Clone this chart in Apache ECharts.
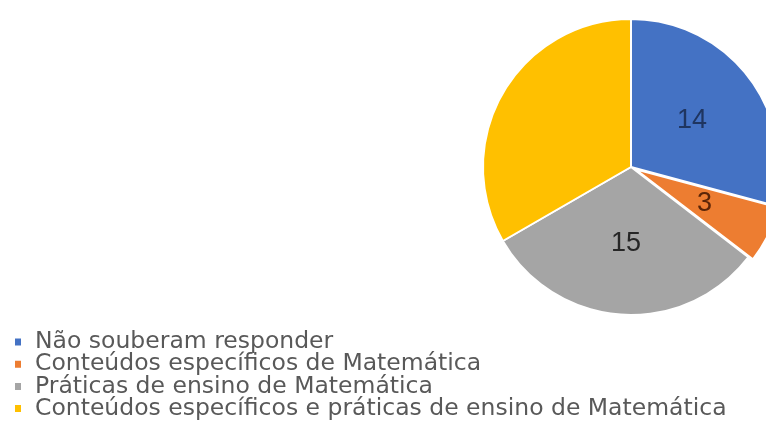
<!DOCTYPE html>
<html>
<head>
<meta charset="utf-8">
<script src="https://cdn.jsdelivr.net/npm/echarts@6/dist/echarts.min.js"></script>
<style>
  html, body { margin: 0; padding: 0; background: #fff; }
  #chart { width: 766px; height: 438px; }
</style>
</head>
<body>
<div id="chart"></div>
<script>
// Categories and counts of answers
const categories = [
  'Não souberam responder',
  'Conteúdos específicos de Matemática',
  'Práticas de ensino de Matemática',
  'Conteúdos específicos e práticas de ensino de Matemática'
];
const counts = [14, 3, 15, 16];
const sliceColors = ['#4472c4', '#ed7d31', '#a5a5a5', '#ffc000'];
const labelColors = ['#1f3560', '#5a2508', '#262626', '#000000'];
const showLabel = [true, true, true, false];
const pulledOut = [false, true, false, false];

const chart = echarts.init(document.getElementById('chart'), null, { renderer: 'canvas' });

const data = categories.map((name, i) => ({
  name,
  value: counts[i],
  selected: pulledOut[i],
  itemStyle: { color: sliceColors[i] },
  label: { show: showLabel[i], color: labelColors[i] }
}));

chart.setOption({
  animation: false,
  backgroundColor: '#ffffff',
  legend: {
    orient: 'vertical',
    left: 13,
    top: 330,
    padding: 0,
    itemWidth: 8,
    itemHeight: 9,
    itemGap: -1.8,
    icon: 'rect',
    selectedMode: false,
    textStyle: {
      fontFamily: 'DejaVu Sans, sans-serif',
      fontSize: 23.5,
      lineHeight: 21.5,
      color: '#595959',
      padding: [0, 0, 0, 8]
    },
    data: categories
  },
  series: [{
    type: 'pie',
    center: [631, 167],
    radius: [0, 148],
    startAngle: 90,
    clockwise: true,
    selectedMode: 'multiple',
    selectedOffset: 5,
    avoidLabelOverlap: false,
    label: {
      position: 'inside',
      formatter: '{c}',
      fontFamily: 'Liberation Sans, Arial, sans-serif',
      fontSize: 27
    },
    labelLine: { show: false },
    itemStyle: { borderColor: '#ffffff', borderWidth: 2 },
    emphasis: { disabled: true },
    data
  }]
});
</script>
</body>
</html>
